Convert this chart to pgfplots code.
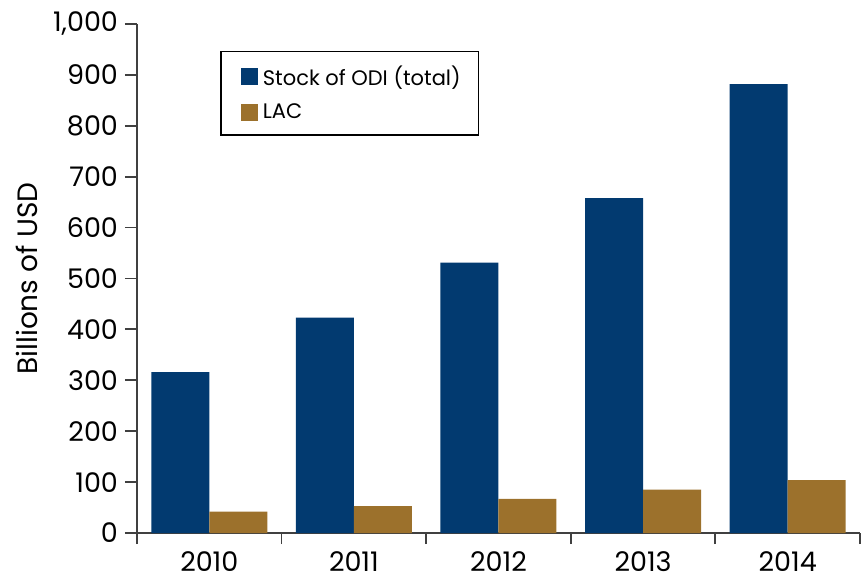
\documentclass[border=0pt]{standalone}
\usepackage{pgfplots}
\pgfplotsset{compat=1.18}
\usepackage{fontspec}
\setmainfont{Poppins}
\definecolor{odiblue}{HTML}{023A70}
\definecolor{lacgold}{HTML}{9C712C}
\definecolor{axgray}{HTML}{404040}
\begin{document}
\begin{tikzpicture}
\useasboundingbox (-68.5pt,-23pt) rectangle (363.5pt,266.5pt);
\begin{axis}[
  at={(0pt,0pt)}, anchor=south west,
  scale only axis, width=361.5pt, height=254.5pt,
  ymin=0, ymax=1000, ytick={0,100,...,1000},
  xmin=-0.5, xmax=4.5,
  xtick={0,1,2,3,4}, xticklabels={2010,2011,2012,2013,2014},
  minor xtick={-0.5,0.5,1.5,2.5,3.5,4.5},
  major x tick style={draw=none},
  minor x tick style={draw=axgray, line width=0.9pt},
  major y tick style={draw=axgray, line width=0.9pt},
  major tick length=6pt, minor tick length=5.5pt,
  axis x line=bottom, axis y line=left,
  axis line style={-, draw=axgray, line width=0.9pt},
  tick align=outside,
  ybar=0pt, bar width=29pt,
  tick label style={font=\fontsize{13.5}{16}\selectfont},
  /pgf/number format/assume math mode=true,
  /pgf/number format/1000 sep={,},
  ylabel={Billions of USD},
  ylabel style={font=\fontsize{14}{16}\selectfont, yshift=1pt},
  legend style={at={(0.115,0.947)}, anchor=north west, draw=black, line width=0.7pt,
    font=\fontsize{10.5}{12.5}\selectfont, inner xsep=7pt, inner ysep=5pt, row sep=3.5pt,
    cells={anchor=west}},
]
\addplot[fill=odiblue, draw=none,
  legend image code/.code={\path (0pt,0pt) (12pt,0pt); \fill[odiblue] (3pt,-4.25pt) rectangle (11.5pt,4.25pt);}]
  coordinates {(0,316) (1,423) (2,531) (3,658) (4,882)};
\addlegendentry{Stock of ODI (total)}
\addplot[fill=lacgold, draw=none,
  legend image code/.code={\path (0pt,0pt) (12pt,0pt); \fill[lacgold] (3pt,-4.25pt) rectangle (11.5pt,4.25pt);}]
  coordinates {(0,42) (1,53) (2,67) (3,85) (4,104)};
\addlegendentry{LAC}
\end{axis}
\end{tikzpicture}
\end{document}
